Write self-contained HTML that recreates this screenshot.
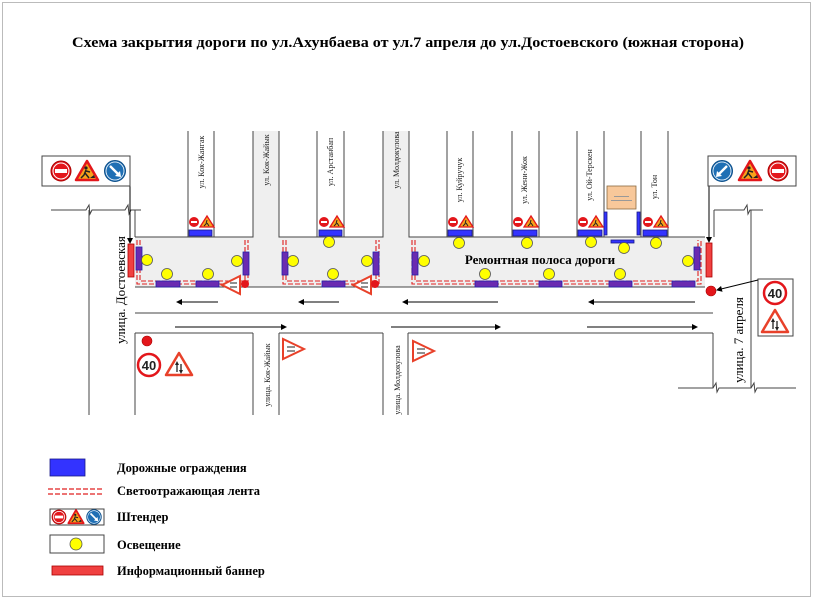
<!DOCTYPE html>
<html><head><meta charset="utf-8"><style>
html,body{margin:0;padding:0;background:#fff;}
svg{display:block;}
text{font-family:"Liberation Serif",serif;}
</style></head><body>
<svg width="815" height="600" viewBox="0 0 815 600" xmlns="http://www.w3.org/2000/svg">
<defs>
 <g id="noentry"><circle r="10" fill="#e3161b" stroke="#a00" stroke-width="1"/><circle r="8" fill="none" stroke="#fff" stroke-width="1"/><rect x="-6" y="-2" width="12" height="4" fill="#fff"/></g>
 <g id="work"><polygon points="0,-10 11,9 -11,9" fill="#f7a21b" stroke="#e3161b" stroke-width="2.5" stroke-linejoin="round"/><circle cx="-1" cy="-3" r="1.6" fill="#222"/><path d="M-1,-1 L-3,4 L-6,7 M-2,2 L2,7 M-1,0 L3,1" stroke="#222" stroke-width="1.5" fill="none"/><path d="M3,7 L7,4 L8,7 Z" fill="#222"/></g>
 <g id="blue"><circle r="10.5" fill="#1f6fb4" stroke="#0d4e88" stroke-width="1"/><circle r="9" fill="none" stroke="#fff" stroke-width="0.8"/><path d="M-5,-5 L4,4" stroke="#fff" stroke-width="2.4"/><polygon points="6,6 0,5 5,0" fill="#fff"/></g>
 <g id="blue2"><circle r="10.5" fill="#1f6fb4" stroke="#0d4e88" stroke-width="1"/><circle r="9" fill="none" stroke="#fff" stroke-width="0.8"/><path d="M5,-5 L-4,4" stroke="#fff" stroke-width="2.4"/><polygon points="-6,6 0,5 -5,0" fill="#fff"/></g>
 <g id="ne_s"><circle r="5" fill="#e3161b"/><rect x="-3" y="-1" width="6" height="2" fill="#fff"/></g>
 <g id="wk_s"><polygon points="0,-6 7,5 -7,5" fill="#f7a21b" stroke="#e3161b" stroke-width="1.3"/><path d="M0,-2 L-1,2 L-3,4 M0,1 L2,4" stroke="#222" stroke-width="1" fill="none"/></g>
 <g id="lamp"><circle r="5.5" fill="#ffff00" stroke="#555" stroke-width="0.8"/></g>
 <g id="tri_l"><polygon points="-9,0 9,-9 9,9" fill="#fff" stroke="#e8412a" stroke-width="2"/><path d="M-1,-2 L6,-2 M-1,2 L6,2" stroke="#222" stroke-width="1"/></g>
 <g id="tri_r"><polygon points="11,0 -10,-10 -10,10" fill="#fff" stroke="#e8412a" stroke-width="2"/><path d="M-6,-2 L2,-2 M-6,2 L2,2" stroke="#222" stroke-width="1"/></g>
 <g id="s40"><circle r="11" fill="#fff" stroke="#e3161b" stroke-width="2.5"/><text x="0" y="5" text-anchor="middle" font-size="13" font-weight="bold" fill="#222" style="font-family:'Liberation Sans',sans-serif">40</text></g>
 <g id="tri_ud"><polygon points="0,-12 13,10 -13,10" fill="#fff" stroke="#e8412a" stroke-width="2.5" stroke-linejoin="round"/><path d="M-2,7 L-2,-2 M2,-1 L2,7" stroke="#222" stroke-width="1.3"/><polygon points="-2,-4 -4,0 0,0" fill="#222"/><polygon points="2,9 0,5 4,5" fill="#222"/></g>
 <marker id="ah" markerWidth="6" markerHeight="6" refX="5" refY="3" orient="auto"><polygon points="0,0 6,3 0,6" fill="#000"/></marker>
</defs>
<rect x="0" y="0" width="815" height="600" fill="#fff"/>
<rect x="2.5" y="2.5" width="808" height="594" fill="none" stroke="#bbb" stroke-width="1"/>

<text x="408" y="47" text-anchor="middle" font-size="14.5" font-weight="bold" textLength="672" lengthAdjust="spacingAndGlyphs">Схема закрытия дороги по ул.Ахунбаева от ул.7 апреля до ул.Достоевского (южная сторона)</text>

<rect x="135" y="237" width="570" height="50" fill="#efefef"/>
<rect x="253" y="131" width="26" height="106" fill="#efefef"/>
<rect x="383" y="131" width="26" height="106" fill="#efefef"/>

<g stroke="#444" stroke-width="1" fill="none">
 <path d="M135,237 H253 V131 M279,131 V237 H383 V131 M409,131 V237 H705"/>
 <path d="M188,131 V237 M214,131 V237 M317,131 V237 M344,131 V237"/>
 <path d="M447,131 V237 M473,131 V237 M512,131 V237 M539,131 V237 M577,131 V237 M604,131 V237 M641,131 V237 M668,131 V237"/>
 <path d="M135,287 H705"/>
 <path d="M135,313 H713"/>
 <path d="M135,333 H253 M279,333 H383 M408,333 H713"/>
 <path d="M135,333 V415 M253,333 V415 M279,333 V415 M383,333 V415 M408,333 V415 M713,333 V388"/>
 <path d="M51,210 H86 L89,205 L90,214 L92,210 H125 L128,205 L129,214 L131,210 H141"/>
 <path d="M89,210 V415"/>
 <path d="M135,210 V237"/>
 <path d="M714,210 V237 M714,210 H744 L747,205 L748,214 L750,210 H763"/>
 <path d="M751,210 V388"/>
 <path d="M678,388 H713 L716,383 L717,392 L719,388 H751 L754,383 L755,392 L757,388 H796"/>
</g>

<g stroke="#000" stroke-width="1" marker-end="url(#ah)">
 <line x1="218" y1="302" x2="177" y2="302"/>
 <line x1="339" y1="302" x2="299" y2="302"/>
 <line x1="498" y1="302" x2="403" y2="302"/>
 <line x1="695" y1="302" x2="589" y2="302"/>
 <line x1="175" y1="327" x2="286" y2="327"/>
 <line x1="391" y1="327" x2="500" y2="327"/>
 <line x1="587" y1="327" x2="697" y2="327"/>
</g>

<g stroke="#e02020" stroke-width="1.1" fill="none" stroke-dasharray="5,2">
 <path d="M137,240 V284 H248 V240"/><path d="M140,240 V281 H245 V240"/>
 <path d="M283,240 V284 H379 V240"/><path d="M286,240 V281 H376 V240"/>
 <path d="M412,240 V284 H701 V240"/><path d="M415,240 V281 H698 V240"/>
</g>

<g fill="#6a2bb0" stroke="#2222aa" stroke-width="0.8">
 <rect x="136" y="247" width="6" height="23"/>
 <rect x="156" y="281" width="24" height="6"/>
 <rect x="196" y="281" width="23" height="6"/>
 <rect x="243" y="252" width="6" height="23"/>
 <rect x="282" y="252" width="6" height="23"/>
 <rect x="322" y="281" width="23" height="6"/>
 <rect x="373" y="252" width="6" height="23"/>
 <rect x="412" y="252" width="6" height="23"/>
 <rect x="475" y="281" width="23" height="6"/>
 <rect x="539" y="281" width="23" height="6"/>
 <rect x="609" y="281" width="23" height="6"/>
 <rect x="672" y="281" width="23" height="6"/>
 <rect x="694" y="247" width="6" height="23"/>
</g>
<g fill="#3333ff" stroke="#1a1a88" stroke-width="0.8">
 <rect x="189" y="230" width="23" height="6"/>
 <rect x="319" y="230" width="23" height="6"/>
 <rect x="448" y="230" width="24" height="6"/>
 <rect x="513" y="230" width="24" height="6"/>
 <rect x="578" y="230" width="24" height="6"/>
 <rect x="643" y="230" width="24" height="6"/>
 <rect x="604" y="212" width="3" height="23"/>
 <rect x="637" y="212" width="3" height="23"/>
 <rect x="611" y="240" width="23" height="3"/>
 <rect x="50" y="459" width="35" height="17"/>
</g>
<use href="#ne_s" x="194" y="222"/><use href="#wk_s" x="207" y="222"/>
<use href="#ne_s" x="324" y="222"/><use href="#wk_s" x="337" y="222"/>
<use href="#ne_s" x="453" y="222"/><use href="#wk_s" x="466" y="222"/>
<use href="#ne_s" x="518" y="222"/><use href="#wk_s" x="531" y="222"/>
<use href="#ne_s" x="583" y="222"/><use href="#wk_s" x="596" y="222"/>
<use href="#ne_s" x="648" y="222"/><use href="#wk_s" x="661" y="222"/>

<use href="#lamp" x="147" y="260"/><use href="#lamp" x="167" y="274"/><use href="#lamp" x="208" y="274"/><use href="#lamp" x="237" y="261"/>
<use href="#lamp" x="293" y="261"/><use href="#lamp" x="329" y="242"/><use href="#lamp" x="333" y="274"/><use href="#lamp" x="367" y="261"/>
<use href="#lamp" x="424" y="261"/><use href="#lamp" x="459" y="243"/><use href="#lamp" x="527" y="243"/><use href="#lamp" x="591" y="242"/><use href="#lamp" x="624" y="248"/><use href="#lamp" x="656" y="243"/><use href="#lamp" x="688" y="261"/>
<use href="#lamp" x="485" y="274"/><use href="#lamp" x="549" y="274"/><use href="#lamp" x="620" y="274"/>

<use href="#tri_l" x="231" y="285"/><circle cx="245" cy="284" r="4" fill="#e3161b"/>
<use href="#tri_l" x="362" y="285"/><circle cx="375" cy="284" r="4" fill="#e3161b"/>
<use href="#tri_r" x="293" y="349"/>
<use href="#tri_r" x="423" y="351"/>

<rect x="607" y="186" width="29" height="23" fill="#f8c89a" stroke="#8a6a40" stroke-width="0.8"/>
<rect x="614" y="196" width="15" height="1" fill="#999"/><rect x="611" y="200" width="21" height="1" fill="#999"/>

<rect x="128" y="244" width="6" height="33" fill="#f04040" stroke="#a00" stroke-width="0.8"/>
<rect x="706" y="243" width="6" height="34" fill="#f04040" stroke="#a00" stroke-width="0.8"/>
<line x1="130" y1="186" x2="130" y2="243" stroke="#000" stroke-width="1" marker-end="url(#ah)"/>
<line x1="709" y1="186" x2="709" y2="242" stroke="#000" stroke-width="1" marker-end="url(#ah)"/>

<rect x="42" y="156" width="88" height="30" fill="#fff" stroke="#444" stroke-width="1"/>
<use href="#noentry" x="61" y="171"/><use href="#work" x="87" y="171"/><use href="#blue" x="115" y="171"/>
<rect x="708" y="156" width="88" height="30" fill="#fff" stroke="#444" stroke-width="1"/>
<use href="#blue2" x="722" y="171"/><use href="#work" x="750" y="171"/><use href="#noentry" x="778" y="171"/>

<rect x="758" y="279" width="35" height="57" fill="#fff" stroke="#444" stroke-width="1"/>
<use href="#s40" x="775" y="293"/><use href="#tri_ud" x="775" y="322"/>
<circle cx="711" cy="291" r="5" fill="#e3161b" stroke="#a00" stroke-width="0.6"/>
<line x1="758" y1="280" x2="717" y2="290" stroke="#000" stroke-width="1" marker-end="url(#ah)"/>

<circle cx="147" cy="341" r="5" fill="#e3161b" stroke="#a00" stroke-width="0.6"/>
<use href="#s40" x="149" y="365"/><use href="#tri_ud" x="179" y="365"/>

<text x="540" y="264" text-anchor="middle" font-size="13" font-weight="bold">Ремонтная полоса дороги</text>
<text transform="translate(125,290) rotate(-90)" text-anchor="middle" font-size="13">улица. Достоевская</text>
<text transform="translate(743,340) rotate(-90)" text-anchor="middle" font-size="13">улица. 7 апреля</text>
<g font-size="8" fill="#222">
 <text transform="translate(204,162) rotate(-90)" text-anchor="middle">ул. Кок-Жангак</text>
 <text transform="translate(269,160) rotate(-90)" text-anchor="middle">ул. Кок-Жайык</text>
 <text transform="translate(333,162) rotate(-90)" text-anchor="middle">ул. Арстанбап</text>
 <text transform="translate(399,160) rotate(-90)" text-anchor="middle">ул. Молдокулова</text>
 <text transform="translate(462,180) rotate(-90)" text-anchor="middle">ул. Куйручук</text>
 <text transform="translate(527,180) rotate(-90)" text-anchor="middle">ул. Жени-Жок</text>
 <text transform="translate(592,175) rotate(-90)" text-anchor="middle">ул. Ой-Терскен</text>
 <text transform="translate(657,187) rotate(-90)" text-anchor="middle">ул. Тон</text>
 <text transform="translate(270,375) rotate(-90)" text-anchor="middle">улица. Кок-Жайык</text>
 <text transform="translate(400,380) rotate(-90)" text-anchor="middle">улица. Молдокулова</text>
</g>

<g stroke="#e02020" stroke-width="1.2" stroke-dasharray="5,2"><line x1="48" y1="489" x2="104" y2="489"/><line x1="48" y1="494" x2="104" y2="494"/></g>
<rect x="50" y="509" width="54" height="16" fill="#fff" stroke="#444" stroke-width="1"/>
<g transform="translate(59,517) scale(0.7)"><use href="#noentry"/></g>
<g transform="translate(76,517) scale(0.7)"><use href="#work"/></g>
<g transform="translate(94,517) scale(0.7)"><use href="#blue"/></g>
<rect x="50" y="535" width="54" height="18" fill="#fff" stroke="#444" stroke-width="1"/>
<circle cx="76" cy="544" r="6" fill="#ffff00" stroke="#555" stroke-width="0.8"/>
<rect x="52" y="566" width="51" height="9" fill="#f04040" stroke="#a00" stroke-width="0.8"/>
<g font-size="12.5" font-weight="bold">
 <text x="117" y="472">Дорожные ограждения</text>
 <text x="117" y="495">Светоотражающая лента</text>
 <text x="117" y="521">Штендер</text>
 <text x="117" y="549">Освещение</text>
 <text x="117" y="575">Информационный баннер</text>
</g>
</svg>
</body></html>
